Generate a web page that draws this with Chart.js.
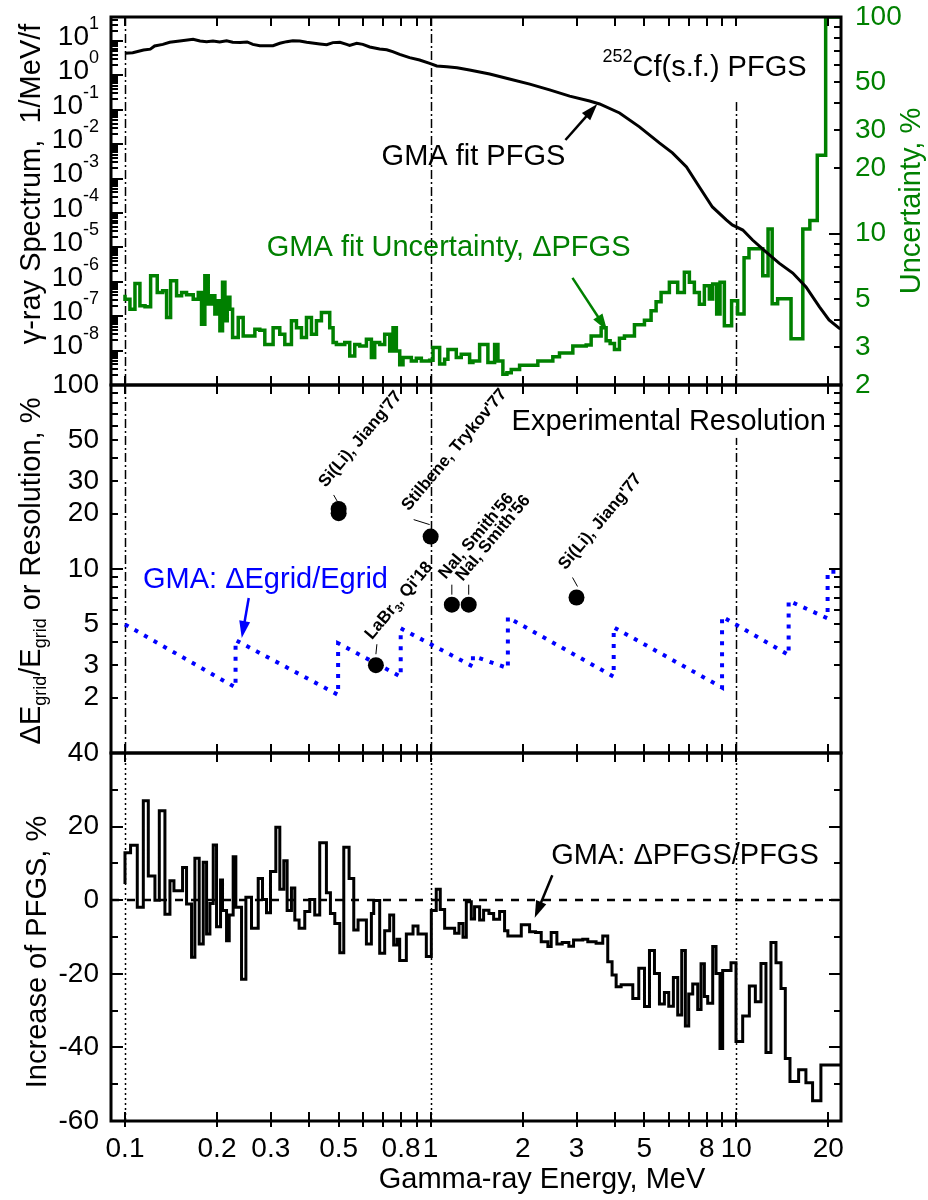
<!DOCTYPE html>
<html lang="en">
<head>
<meta charset="utf-8">
<title>252Cf(s.f.) prompt fission gamma spectrum — GMA fit</title>
<script src="https://cdn.jsdelivr.net/npm/chart.js@4.4.1/dist/chart.umd.min.js"></script>
<style>
  html, body { margin: 0; padding: 0; background: #fff; }
  #figure { position: relative; width: 928px; height: 1200px; background: #fff; overflow: hidden; }
  #figure canvas { position: absolute; left: 0; }
</style>
</head>
<body>
<div id="figure">
  <canvas id="spectrumPanel" width="928" height="400" style="top:0px"></canvas>
  <canvas id="resolutionPanel" width="928" height="410" style="top:360px"></canvas>
  <canvas id="increasePanel" width="928" height="472" style="top:728px"></canvas>
</div>
<script>
// ---------- shared energy axis (MeV, logarithmic) ----------
const energyMin = 0.09;
const energyMax = 22;
const energyTicks = [0.1, 0.2, 0.3, 0.5, 0.8, 1, 2, 3, 5, 8, 10, 20];
const energyTickLabels = ['0.1', '0.2', '0.3', '0.5', '0.8', '1', '2', '3', '5', '8', '10', '20'];
const energyMinorTicks = [0.4, 0.6, 0.7, 0.9, 4, 6, 7, 9];
const markerEnergies = [0.1, 1, 10];

// ---------- top panel: GMA fit of the spectrum (1/MeV/fission) ----------
const spectrumMin = 1e-9;
const spectrumMax = 50;
const spectrumTickExponents = [1, 0, -1, -2, -3, -4, -5, -6, -7, -8];
const pfgsEnergy = [
  0.100, 0.106, 0.115, 0.121, 0.125, 0.133, 0.140, 0.151, 0.167, 0.176,
  0.185, 0.194, 0.204, 0.215, 0.225, 0.238, 0.251, 0.262, 0.276, 0.291,
  0.305, 0.321, 0.338, 0.354, 0.373, 0.393, 0.434, 0.457, 0.479, 0.505,
  0.531, 0.543, 0.573, 0.600, 0.632, 0.681, 0.718, 0.751, 0.792, 0.853,
  0.920, 0.993, 1.047, 1.13, 1.22, 1.34, 1.56, 1.81, 2.11, 2.45,
  2.85, 3.31, 3.57, 4.15, 4.82, 5.60, 6.18, 6.87, 7.57, 8.35,
  9.27, 9.70, 10.5, 11.3, 12.5, 13.8, 15.3, 16.9, 18.7, 20.1,
  21.7, 22
];
const pfgsSpectrum = [
  4.4, 4.6, 5.5, 5.8, 7.2, 8.0, 9.2, 10.0, 11.2, 10.0,
  9.6, 10.0, 9.4, 10.2, 9.2, 9.0, 9.4, 8.0, 7.3, 7.3,
  7.3, 8.6, 9.6, 10.2, 10.0, 9.2, 8.2, 7.8, 9.0, 9.2,
  8.0, 7.5, 8.6, 8.0, 6.7, 5.9, 5.6, 4.9, 4.1, 3.3,
  2.8, 2.25, 1.88, 1.80, 1.68, 1.44, 1.10, 0.79, 0.56, 0.38,
  0.25, 0.18, 0.148, 0.081, 0.032, 0.0109, 0.0056, 0.0022, 5.7e-4, 1.5e-4,
  6.3e-5, 4.5e-5, 3.2e-5, 1.64e-5, 7.4e-6, 3.5e-6, 1.8e-6, 7.1e-7, 1.86e-7, 7.8e-8,
  4.5e-8, 4.3e-8
];

// ---------- top panel: fit uncertainty, % (histogram: edges in MeV, bin values) ----------
const uncMin = 2;
const uncMax = 100;
const uncTickLabels = [100, 50, 30, 20, 10, 5, 3, 2];
const uncEdges = [
  0.1000, 0.1038, 0.1078, 0.1119, 0.1163, 0.1213, 0.1275, 0.1328, 0.1368, 0.1410,
  0.1475, 0.1532, 0.1590, 0.1672, 0.1737, 0.1780, 0.1825, 0.1872, 0.1919, 0.1968,
  0.2003, 0.2044, 0.2085, 0.2123, 0.2160, 0.2204, 0.2249, 0.2347, 0.2436, 0.2660,
  0.2761, 0.2867, 0.3052, 0.3209, 0.3333, 0.3504, 0.3639, 0.3779, 0.3924, 0.4074,
  0.4230, 0.4392, 0.4675, 0.4795, 0.4916, 0.5236, 0.5436, 0.5645, 0.5861, 0.6163,
  0.6399, 0.6561, 0.6812, 0.7074, 0.7345, 0.7532, 0.7723, 0.7921, 0.8121, 0.8646,
  0.8978, 0.9322, 0.9924, 1.018, 1.070, 1.111, 1.139, 1.213, 1.259, 1.341,
  1.375, 1.446, 1.539, 1.619, 1.660, 1.723, 1.776, 1.835, 1.954, 2.242,
  2.510, 2.639, 2.918, 3.227, 3.350, 3.612, 3.750, 3.865, 3.993, 4.146,
  4.305, 4.642, 5.005, 5.262, 5.464, 5.673, 6.039, 6.429, 6.761, 7.021,
  7.290, 7.569, 7.860, 8.161, 8.368, 8.625, 8.844, 9.138, 9.65, 10.1,
  10.6, 11.0, 12.2, 12.7, 13.1, 13.65, 15.1, 16.5, 17.4, 18.4,
  19.6, 20.9, 22
];
const uncPercent = [
  5.22, 4.98, 4.48, 5.89, 4.64, 4.59, 6.39, 5.35, 5.45, 4.10,
  6.06, 5.16, 5.35, 5.22, 4.98, 5.35, 3.82, 6.39, 4.73, 5.16,
  4.25, 4.90, 3.56, 5.96, 3.96, 5.08, 4.48, 3.31, 4.10, 3.37,
  3.62, 3.58, 3.08, 3.68, 3.43, 3.08, 3.96, 3.68, 3.31, 4.10,
  3.43, 3.96, 4.32, 3.68, 3.14, 3.08, 3.14, 2.72, 3.08, 3.03,
  3.25, 2.68, 3.14, 3.08, 3.43, 2.87, 3.68, 2.87, 2.48, 2.68,
  2.58, 2.66, 2.58, 2.60, 2.98, 2.50, 2.63, 2.92, 2.68, 2.77,
  2.54, 2.58, 3.08, 2.54, 3.08, 2.58, 2.24, 2.28, 2.36, 2.47,
  2.58, 2.70, 2.81, 3.03, 3.06, 3.37, 3.68, 3.20, 3.11, 2.92,
  3.29, 3.37, 3.79, 3.98, 4.40, 4.85, 5.35, 5.96, 5.35, 6.63,
  5.96, 5.35, 4.72, 5.74, 4.99, 5.85, 4.25, 5.96, 3.75, 4.90,
  4.25, 7.74, 8.52, 6.39, 10.5, 4.74, 5.00, 3.27, 10.5, 11.5,
  23, 100
];

// ---------- middle panel: energy-grid step and detector resolution, % ----------
const resMin = 1;
const resMax = 100;
const resTickLabels = [100, 50, 30, 20, 10, 5, 3, 2];
const gridEnergy = [0.1, 0.230, 0.230, 0.498, 0.498, 0.798, 0.798, 1.375, 1.375, 1.789,
                    1.789, 3.97, 3.97, 8.98, 8.98, 14.83, 14.83, 19.89, 19.89, 22];
const gridRatio = [5.00, 2.27, 4.11, 2.07, 3.95, 2.60, 4.76, 2.95, 3.37, 2.89,
                   5.46, 2.60, 4.82, 2.27, 5.51, 3.41, 6.73, 5.39, 9.66, 9.66];
const detectorLabels = ["Si(Li), Jiang'77", "", "Stilbene, Trykov'77", "LaBr₃, Qi'18",
                        "NaI, Smith'56", "NaI, Smith'56", "Si(Li), Jiang'77"];
const detectorEnergy = [0.5, 0.5, 1.0, 0.662, 1.173, 1.332, 3.0];
const detectorResolution = [21.2, 20.1, 15.0, 3.0, 6.4, 6.4, 7.0];

// ---------- bottom panel: increase of the spectrum, % (histogram) ----------
const incMin = -60;
const incMax = 40;
const incTickLabels = [40, 20, 0, -20, -40, -60];
const incEdges = [
  0.1000, 0.1043, 0.1097, 0.1148, 0.1192, 0.1253, 0.1295, 0.1351, 0.1403, 0.1446,
  0.1543, 0.1590, 0.1651, 0.1693, 0.1749, 0.1803, 0.1849, 0.1896, 0.1944, 0.1993,
  0.2054, 0.2085, 0.2149, 0.2193, 0.2259, 0.2305, 0.2406, 0.2486, 0.2594, 0.2728,
  0.2818, 0.2904, 0.2992, 0.3115, 0.3210, 0.3308, 0.3392, 0.3504, 0.3594, 0.3712,
  0.3874, 0.4022, 0.4176, 0.4336, 0.4560, 0.4700, 0.4857, 0.5043, 0.5197, 0.5409,
  0.5603, 0.5788, 0.6163, 0.6398, 0.6511, 0.6812, 0.7073, 0.7345, 0.7569, 0.7762,
  0.7919, 0.8326, 0.8756, 0.9091, 0.9679, 1.005, 1.043, 1.075, 1.111, 1.198,
  1.238, 1.276, 1.308, 1.358, 1.392, 1.446, 1.490, 1.551, 1.607, 1.681,
  1.745, 1.789, 1.979, 2.107, 2.204, 2.300, 2.418, 2.479, 2.588, 2.694,
  2.833, 2.934, 3.145, 3.266, 3.477, 3.656, 3.796, 3.922, 4.044, 4.199,
  4.584, 4.796, 5.006, 5.198, 5.397, 5.604, 5.817, 6.010, 6.224, 6.431,
  6.628, 6.812, 6.986, 7.200, 7.476, 7.666, 7.861, 8.060, 8.370, 8.582,
  8.843, 9.022, 9.607, 9.975, 10.49, 11.03, 11.54, 12.04, 12.50, 12.98,
  13.48, 14.00, 14.46, 14.98, 15.99, 16.89, 17.76, 18.91, 19.88, 22
];
const incPercent = [
  4.4, 12.9, 14.9, -1.9, 27.0, 6.6, 0.0, 24.3, -3.8, 5.3,
  2.6, 8.9, -1.0, -15.5, 11.4, -11.9, 10.3, -9.2, -0.9, 15.0,
  -7.2, 5.5, -2.8, -11.0, -4.0, 11.8, -1.9, -21.5, 0.8, -7.6,
  5.9, 0.2, -3.4, 7.8, 19.8, 3.0, 10.7, -2.8, 3.3, -5.4,
  -7.6, -3.1, 0.2, -4.0, 15.6, 2.0, -3.6, -6.3, -14.3, 14.4,
  5.9, -8.1, -5.4, -11.9, -3.6, -0.1, -14.4, -8.3, -4.0, -12.2,
  -10.6, -16.4, -9.2, -7.0, -9.2, -15.3, -2.8, 3.0, -2.5, -7.6,
  -9.0, -6.3, -10.1, -0.4, -5.1, -1.8, -5.4, -2.7, -3.6, -5.2,
  -3.1, -8.3, -9.7, -6.7, -8.6, -8.8, -11.3, -12.6, -8.8, -11.9,
  -11.5, -12.5, -10.8, -10.6, -11.3, -11.7, -9.7, -16.7, -20.3, -23.5,
  -23.0, -26.7, -18.5, -28.9, -13.7, -19.9, -28.2, -25.1, -28.8, -21.0,
  -31.2, -13.7, -34.2, -25.5, -22.8, -29.7, -17.3, -26.2, -28.0, -12.6,
  -19.9, -40.3, -19.1, -17.0, -38.4, -31.5, -23.3, -27.6, -17.2, -41.4,
  -11.5, -17.0, -24.0, -43.0, -49.3, -46.1, -49.6, -54.5, -44.8
];

// ---------- annotations (anchored in data units) ----------
const spectrumNotes = {
  reaction: { energy: 3.65, spectrum: 1.64 },
  fit: { energy: 0.691, spectrum: 4.26e-3, text: 'GMA fit PFGS' },
  fitArrow: { from: [2.76, 0.0133], to: [3.51, 0.148] },
  unc: { energy: 0.291, percent: 8.6, text: 'GMA fit Uncertainty, ΔPFGS' },
  uncArrow: { from: [2.91, 6.25], to: [3.78, 3.56] }
};
const resolutionNotes = {
  title: { energy: 1.84, ratio: 63, text: 'Experimental Resolution' },
  grid: { energy: 0.1145, ratio: 8.7, text: 'GMA: ΔEgrid/Egrid' },
  gridArrow: { from: [0.254, 6.95], to: [0.241, 4.22] }
};
const increaseNotes = {
  label: { energy: 2.48, percent: 12.0, text: 'GMA: ΔPFGS/PFGS' },
  arrow: { from: [2.50, 6.8], to: [2.19, -4.8] }
};

// detector label placement relative to each marker (pixels)
const detectorLabelOffsets = [[-13, -21], null, [-22, -25], [-4, -25], [-6, -25], [-6, -23], [-11, -27]];
const detectorLeaders = [[-5, -14, -1, -7], null, [-17, -17, -1, -12], [1, -21, 0, -11],
                         [0, -20, 0, -10], [0, -20, 0, -10], [-4, -20, 1, -11]];
const DETECTOR_FONT = 17;
const DETECTOR_ANGLE = -50;

// ---------- drawing helpers ----------
const GREEN = '#008000';
const BLUE = '#0000ff';
const DASH_DOT = [9, 3, 2, 3];
const DOTTED = [2, 3];
const NOTE_FONT = 29;
const TITLE_FONT = 29;
const TICK_FONT = 28;
const FAMILY = '"Liberation Sans", Arial, Helvetica, sans-serif';
const font = (size, bold) => `${bold ? 'bold ' : ''}${size}px ${FAMILY}`;

function strokePath(ctx, pts, width, color, dash) {
  ctx.save();
  ctx.beginPath();
  ctx.lineWidth = width;
  ctx.strokeStyle = color;
  ctx.setLineDash(dash || []);
  ctx.moveTo(pts[0], pts[1]);
  for (let i = 2; i < pts.length; i += 2) ctx.lineTo(pts[i], pts[i + 1]);
  ctx.stroke();
  ctx.restore();
}

function drawArrow(ctx, x0, y0, x1, y1, color) {
  const ang = Math.atan2(y1 - y0, x1 - x0);
  const len = 17, half = 5.5;
  const bx = x1 - len * Math.cos(ang), by = y1 - len * Math.sin(ang);
  strokePath(ctx, [x0, y0, bx + 2 * Math.cos(ang), by + 2 * Math.sin(ang)], 2.5, color);
  ctx.save();
  ctx.fillStyle = color;
  ctx.beginPath();
  ctx.moveTo(x1, y1);
  ctx.lineTo(bx - half * Math.sin(ang), by + half * Math.cos(ang));
  ctx.lineTo(bx + half * Math.sin(ang), by - half * Math.cos(ang));
  ctx.closePath();
  ctx.fill();
  ctx.restore();
}

function measureRuns(ctx, runs) {
  let total = 0;
  runs.forEach(r => { ctx.font = font(r.size, r.bold); r.w = ctx.measureText(r.text).width; total += r.w; });
  return total;
}

function drawRuns(ctx, runs, x, y, align) {
  const total = measureRuns(ctx, runs);
  let cx = align === 'right' ? x - total : align === 'center' ? x - total / 2 : x;
  ctx.textAlign = 'left';
  runs.forEach(r => { ctx.font = font(r.size, r.bold); ctx.fillText(r.text, cx, y + (r.dy || 0)); cx += r.w; });
  return total;
}

function drawRotated(ctx, x, y, runs, color) {
  ctx.save();
  ctx.translate(x, y);
  ctx.rotate(-Math.PI / 2);
  ctx.fillStyle = color;
  ctx.textBaseline = 'middle';
  drawRuns(ctx, runs, 0, 0, 'center');
  ctx.restore();
}

function drawText(ctx, text, x, y, color, size) {
  ctx.save();
  ctx.fillStyle = color;
  ctx.font = font(size || NOTE_FONT);
  ctx.textAlign = 'left';
  ctx.textBaseline = 'middle';
  ctx.fillText(text, x, y);
  ctx.restore();
}

function drawFrame(ctx, a) {
  ctx.save();
  ctx.lineWidth = 3;
  ctx.strokeStyle = '#000';
  ctx.setLineDash([]);
  ctx.strokeRect(a.left, a.top, a.right - a.left, a.bottom - a.top);
  ctx.restore();
}

function drawEnergyTicks(chart, outward) {
  const { ctx, chartArea: a, scales: { x } } = chart;
  ctx.save();
  ctx.lineWidth = 2;
  ctx.strokeStyle = '#000';
  ctx.beginPath();
  energyTicks.concat(energyMinorTicks).forEach(v => {
    const px = Math.round(x.getPixelForValue(v));
    ctx.moveTo(px, a.top); ctx.lineTo(px, a.top + 9);
    ctx.moveTo(px, a.bottom); ctx.lineTo(px, a.bottom - 9);
    if (outward) { ctx.moveTo(px, a.bottom); ctx.lineTo(px, a.bottom + 6); }
  });
  ctx.stroke();
  ctx.restore();
}

function drawLogTicks(ctx, a, scale, side) {
  const lo = Math.floor(Math.log10(scale.min) + 1e-9);
  const hi = Math.ceil(Math.log10(scale.max) - 1e-9);
  ctx.save();
  ctx.lineWidth = 2;
  ctx.strokeStyle = '#000';
  ctx.beginPath();
  for (let d = lo; d <= hi; d++) {
    for (let m = 1; m < 10; m++) {
      const v = m * Math.pow(10, d);
      if (v < scale.min * 0.999 || v > scale.max * 1.001) continue;
      const py = Math.round(scale.getPixelForValue(v));
      const len = m === 1 ? 12 : 7;
      if (side === 'left') { ctx.moveTo(a.left, py); ctx.lineTo(a.left + len, py); }
      else { ctx.moveTo(a.right, py); ctx.lineTo(a.right - len, py); }
    }
  }
  ctx.stroke();
  ctx.restore();
}

function drawLinearTicks(ctx, a, scale) {
  ctx.save();
  ctx.lineWidth = 2;
  ctx.strokeStyle = '#000';
  ctx.beginPath();
  for (let v = scale.min; v <= scale.max; v += 10) {
    const py = Math.round(scale.getPixelForValue(v));
    const len = v % 20 === 0 ? 12 : 7;
    ctx.moveTo(a.left, py); ctx.lineTo(a.left + len, py);
    ctx.moveTo(a.right, py); ctx.lineTo(a.right - len, py);
  }
  ctx.stroke();
  ctx.restore();
}

function drawLeftLabels(ctx, scale, values) {
  ctx.save();
  ctx.fillStyle = '#000';
  ctx.font = font(TICK_FONT);
  ctx.textAlign = 'right';
  ctx.textBaseline = 'middle';
  values.forEach(v => ctx.fillText(String(v), 99, scale.getPixelForValue(v)));
  ctx.restore();
}

function markerLines(chart, dash) {
  const { ctx, chartArea: a, scales: { x } } = chart;
  markerEnergies.forEach(e => {
    const px = Math.round(x.getPixelForValue(e)) + 0.5;
    strokePath(ctx, [px, a.top, px, a.bottom], 1.5, '#000', dash);
  });
}

function labelRuns(label) {
  const parts = label.split('₃');
  const runs = [{ text: parts[0], size: DETECTOR_FONT, bold: true }];
  if (parts.length > 1) {
    runs.push({ text: '3', size: 11, bold: true, dy: 4 });
    runs.push({ text: parts[1], size: DETECTOR_FONT, bold: true });
  }
  return runs;
}

const reactionRuns = () => [{ text: '252', size: 18, dy: -11.5 }, { text: 'Cf(s.f.) PFGS', size: NOTE_FONT }];

function histogramPoints(edges, values) {
  const pts = values.map((v, i) => ({ x: edges[i], y: v }));
  pts.push({ x: edges[values.length], y: values[values.length - 1] });
  return pts;
}
const pairPoints = (xs, ys) => xs.map((x, i) => ({ x, y: ys[i] }));

function baseOptions(padding, yScales) {
  return {
    responsive: false,
    maintainAspectRatio: false,
    animation: false,
    devicePixelRatio: 1,
    events: [],
    layout: { padding },
    plugins: { legend: { display: false }, tooltip: { enabled: false } },
    elements: { point: { radius: 0 }, line: { tension: 0 } },
    scales: Object.assign({ x: { type: 'logarithmic', min: energyMin, max: energyMax, display: false } }, yScales)
  };
}

// ---------- panel decorations ----------
const spectrumDecor = {
  id: 'spectrumDecor',
  beforeDatasetsDraw(chart) {
    const { ctx, chartArea: a, scales: { x, y } } = chart;
    markerLines(chart, DASH_DOT);
    const n = spectrumNotes.reaction;
    const lx = x.getPixelForValue(n.energy), cy = y.getPixelForValue(n.spectrum);
    const w = measureRuns(ctx, reactionRuns());
    ctx.save();
    ctx.fillStyle = '#fff';
    ctx.fillRect(lx - 6, a.top + 2, w + 12, cy + 34 - a.top - 2);
    ctx.restore();
  },
  afterDatasetsDraw(chart) {
    const { ctx, scales: { x, y, yUnc } } = chart;
    const n = spectrumNotes;
    ctx.save();
    ctx.fillStyle = '#000';
    ctx.textBaseline = 'middle';
    drawRuns(ctx, reactionRuns(), x.getPixelForValue(n.reaction.energy), y.getPixelForValue(n.reaction.spectrum), 'left');
    ctx.restore();
    drawText(ctx, n.fit.text, x.getPixelForValue(n.fit.energy), y.getPixelForValue(n.fit.spectrum), '#000');
    drawArrow(ctx, x.getPixelForValue(n.fitArrow.from[0]), y.getPixelForValue(n.fitArrow.from[1]),
              x.getPixelForValue(n.fitArrow.to[0]), y.getPixelForValue(n.fitArrow.to[1]), '#000');
    drawText(ctx, n.unc.text, x.getPixelForValue(n.unc.energy), yUnc.getPixelForValue(n.unc.percent), GREEN);
    drawArrow(ctx, x.getPixelForValue(n.uncArrow.from[0]), yUnc.getPixelForValue(n.uncArrow.from[1]),
              x.getPixelForValue(n.uncArrow.to[0]), yUnc.getPixelForValue(n.uncArrow.to[1]), GREEN);
  },
  afterDraw(chart) {
    const { ctx, chartArea: a, scales: { y, yUnc } } = chart;
    drawFrame(ctx, a);
    drawEnergyTicks(chart, false);
    drawLogTicks(ctx, a, y, 'left');
    drawLogTicks(ctx, a, yUnc, 'right');
    ctx.save();
    ctx.fillStyle = '#000';
    ctx.textBaseline = 'middle';
    spectrumTickExponents.forEach(k => {
      const py = y.getPixelForValue(Math.pow(10, k));
      drawRuns(ctx, [{ text: '10', size: TICK_FONT }, { text: String(k), size: 18, dy: -13 }], 99, py - 4, 'right');
    });
    ctx.fillStyle = GREEN;
    ctx.font = font(TICK_FONT);
    ctx.textAlign = 'left';
    uncTickLabels.forEach(v => ctx.fillText(String(v), 855, yUnc.getPixelForValue(v)));
    ctx.restore();
    drawRotated(ctx, 32, a.top + 167, [{ text: 'γ-ray Spectrum,  1/MeV/f', size: TITLE_FONT }], '#000');
    drawRotated(ctx, 912, a.top + 184, [{ text: 'Uncertainty, %', size: TITLE_FONT }], GREEN);
  }
};

const resolutionDecor = {
  id: 'resolutionDecor',
  beforeDatasetsDraw(chart) {
    const { ctx, chartArea: a, scales: { x, y } } = chart;
    markerLines(chart, DASH_DOT);
    const t = resolutionNotes.title;
    ctx.save();
    ctx.font = font(NOTE_FONT);
    const w = ctx.measureText(t.text).width;
    const lx = x.getPixelForValue(t.energy), cy = y.getPixelForValue(t.ratio);
    ctx.fillStyle = '#fff';
    ctx.fillRect(lx - 6, a.top + 2, w + 12, cy + 16 - a.top - 2);
    ctx.restore();
  },
  afterDatasetsDraw(chart) {
    const { ctx, scales: { x, y } } = chart;
    const n = resolutionNotes;
    drawText(ctx, n.title.text, x.getPixelForValue(n.title.energy), y.getPixelForValue(n.title.ratio), '#000');
    drawText(ctx, n.grid.text, x.getPixelForValue(n.grid.energy), y.getPixelForValue(n.grid.ratio), BLUE);
    drawArrow(ctx, x.getPixelForValue(n.gridArrow.from[0]), y.getPixelForValue(n.gridArrow.from[1]),
              x.getPixelForValue(n.gridArrow.to[0]), y.getPixelForValue(n.gridArrow.to[1]), BLUE);
    detectorLabels.forEach((label, i) => {
      if (!label) return;
      const px = x.getPixelForValue(detectorEnergy[i]);
      const py = y.getPixelForValue(detectorResolution[i]);
      const ld = detectorLeaders[i];
      strokePath(ctx, [px + ld[0], py + ld[1], px + ld[2], py + ld[3]], 1, '#000');
      const off = detectorLabelOffsets[i];
      ctx.save();
      ctx.translate(px + off[0], py + off[1]);
      ctx.rotate(DETECTOR_ANGLE * Math.PI / 180);
      ctx.fillStyle = '#000';
      ctx.textBaseline = 'alphabetic';
      drawRuns(ctx, labelRuns(label), 0, 0, 'left');
      ctx.restore();
    });
  },
  afterDraw(chart) {
    const { ctx, chartArea: a, scales: { y } } = chart;
    drawFrame(ctx, a);
    drawEnergyTicks(chart, false);
    drawLogTicks(ctx, a, y, 'left');
    drawLogTicks(ctx, a, y, 'right');
    drawLeftLabels(ctx, y, resTickLabels);
    drawRotated(ctx, 32, a.top + 186, [
      { text: 'ΔE', size: TITLE_FONT }, { text: 'grid', size: 18, dy: 9 },
      { text: '/E', size: TITLE_FONT }, { text: 'grid', size: 18, dy: 9 },
      { text: ' or Resolution, %', size: TITLE_FONT }
    ], '#000');
  }
};

const increaseDecor = {
  id: 'increaseDecor',
  beforeDatasetsDraw(chart) {
    const { ctx, chartArea: a, scales: { y } } = chart;
    markerLines(chart, DOTTED);
    const py = Math.round(y.getPixelForValue(0));
    strokePath(ctx, [a.left, py, a.right, py], 2.5, '#000', [8, 8]);
  },
  afterDatasetsDraw(chart) {
    const { ctx, scales: { x, y } } = chart;
    const n = increaseNotes;
    drawText(ctx, n.label.text, x.getPixelForValue(n.label.energy), y.getPixelForValue(n.label.percent), '#000');
    drawArrow(ctx, x.getPixelForValue(n.arrow.from[0]), y.getPixelForValue(n.arrow.from[1]),
              x.getPixelForValue(n.arrow.to[0]), y.getPixelForValue(n.arrow.to[1]), '#000');
  },
  afterDraw(chart) {
    const { ctx, chartArea: a, scales: { x, y } } = chart;
    drawFrame(ctx, a);
    drawEnergyTicks(chart, true);
    drawLinearTicks(ctx, a, y);
    drawLeftLabels(ctx, y, incTickLabels);
    ctx.save();
    ctx.fillStyle = '#000';
    ctx.textAlign = 'center';
    ctx.textBaseline = 'middle';
    ctx.font = font(TICK_FONT);
    energyTicks.forEach((v, i) => ctx.fillText(energyTickLabels[i], x.getPixelForValue(v), a.bottom + 28));
    ctx.font = font(TITLE_FONT);
    ctx.fillText('Gamma-ray Energy, MeV', 542, a.bottom + 59);
    ctx.restore();
    drawRotated(ctx, 38, a.top + 199, [{ text: 'Increase of PFGS, %', size: TITLE_FONT }], '#000');
  }
};

// ---------- charts ----------
new Chart(document.getElementById('spectrumPanel'), {
  type: 'line',
  data: {
    datasets: [
      { label: 'GMA fit PFGS', data: pairPoints(pfgsEnergy, pfgsSpectrum), yAxisID: 'y',
        borderColor: '#000', borderWidth: 3, pointRadius: 0, fill: false },
      { label: 'GMA fit Uncertainty, ΔPFGS', data: histogramPoints(uncEdges, uncPercent), yAxisID: 'yUnc',
        borderColor: GREEN, borderWidth: 3.5, pointRadius: 0, stepped: 'after', fill: false }
    ]
  },
  options: baseOptions({ left: 111, right: 87, top: 17, bottom: 15 }, {
    y: { type: 'logarithmic', min: spectrumMin, max: spectrumMax, display: false },
    yUnc: { type: 'logarithmic', position: 'right', min: uncMin, max: uncMax, display: false }
  }),
  plugins: [spectrumDecor]
});

new Chart(document.getElementById('resolutionPanel'), {
  type: 'line',
  data: {
    datasets: [
      { label: 'Experimental Resolution', data: pairPoints(detectorEnergy, detectorResolution),
        showLine: false, pointRadius: 8, pointBackgroundColor: '#000', pointBorderColor: '#000', pointBorderWidth: 0 },
      { label: 'GMA: ΔEgrid/Egrid', data: pairPoints(gridEnergy, gridRatio),
        borderColor: BLUE, borderWidth: 4, borderDash: [4, 7], pointRadius: 0, fill: false }
    ]
  },
  options: baseOptions({ left: 111, right: 87, top: 25, bottom: 17 }, {
    y: { type: 'logarithmic', min: resMin, max: resMax, display: false }
  }),
  plugins: [resolutionDecor]
});

new Chart(document.getElementById('increasePanel'), {
  type: 'line',
  data: {
    datasets: [
      { label: 'GMA: ΔPFGS/PFGS', data: histogramPoints(incEdges, incPercent),
        borderColor: '#000', borderWidth: 3, pointRadius: 0, stepped: 'after', fill: false }
    ]
  },
  options: baseOptions({ left: 111, right: 87, top: 25, bottom: 79 }, {
    y: { type: 'linear', min: incMin, max: incMax, display: false }
  }),
  plugins: [increaseDecor]
});
</script>
</body>
</html>
